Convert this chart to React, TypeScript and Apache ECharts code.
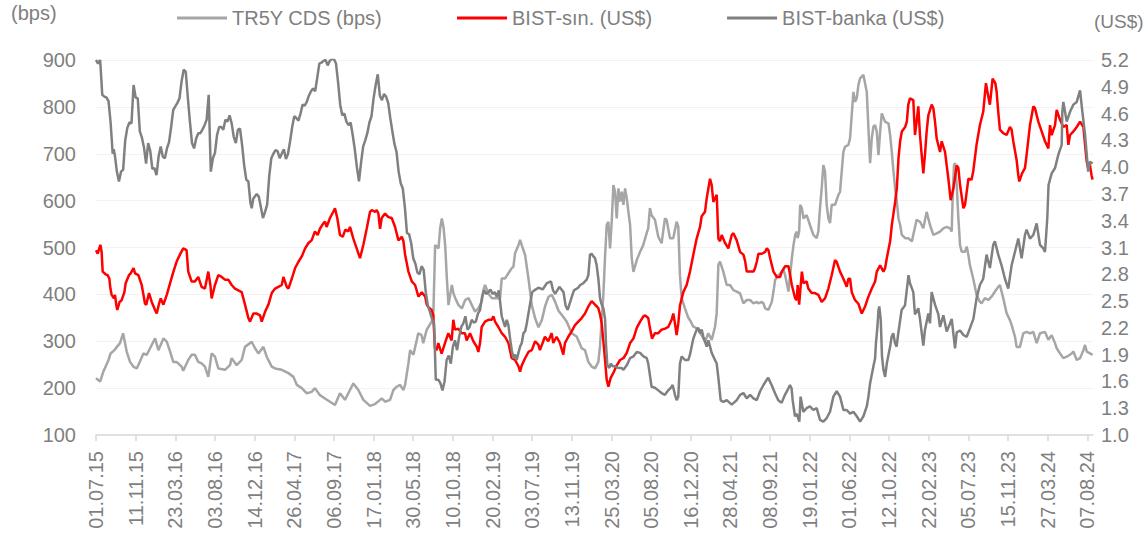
import React, { useEffect, useRef } from "react";
import * as echarts from "echarts";

// x values are weeks since 01.07.15 (weekly data)
const START_UTC = Date.UTC(2015, 6, 1);
const LABEL_STEP_WEEKS = 19;
const LABEL_WEEKS = Array.from({ length: 26 }, (_, k) => k * LABEL_STEP_WEEKS);
const LAST_WEEK = 477.7;

const legendNames = ["TR5Y CDS (bps)", "BIST-sın. (US$)", "BIST-banka (US$)"];

// TR5Y CDS (bps) - left axis
const cdsSeries: [number, number][] = [
  [0,221],[2,214],[3.5,235],[5,250],[6,260],[7,274],[8.8,281],[10,288],[11.5,296],[13,317],[14.7,278],[16.3,256],[17.9,246],[19.5,242],[21,256],[22.7,274],[24.3,271],[25.9,285],[28.3,306],[29.9,281],[32.3,306],[33.9,299],[35.5,278],[37,256],[38.6,256],[41,246],[41.8,237],[44.2,260],[45.8,271],[47.4,271],[49,256],[50.6,253],[52.2,246],[53.8,224],[55.4,274],[57,267],[58.6,242],[61.8,239],[64.2,249],[65,264],[67.4,249],[69.8,260],[71.4,288],[73.8,296],[74.6,299],[76.2,285],[77.8,274],[80.2,288],[81.8,267],[84.2,246],[85.8,242],[89,239],[92.2,232],[94.6,224],[96.2,207],[98.6,200],[101,189],[103.3,192],[104.9,200],[107.3,185],[109.7,178],[112.1,171],[114.5,164],[116.9,189],[119.3,175],[120.9,189],[123.3,210],[125.7,196],[128.1,175],[131.3,162],[133.7,166],[136.1,175],[136.9,178],[138.5,171],[140.9,175],[142.5,196],[144.1,203],[145.7,207],[147.3,196],[148.1,207],[149.7,253],[150.5,281],[152.1,271],[154.4,317],[156,313],[156.8,296],[158.4,324],[160.8,342],[161.6,352],[162.5,505],[163.3,502],[164.1,498],[164.9,541],[165.7,562],[166.5,544],[167.3,505],[168.1,434],[168.9,377],[169.7,399],[170.5,420],[171.3,402],[172.1,392],[173.7,377],[175.3,370],[176.9,388],[178.5,392],[180.1,377],[181.6,363],[183.2,370],[184.8,384],[185.6,409],[186.4,420],[188,402],[189.6,392],[192,392],[193.6,392],[194.4,434],[196,434],[197.6,445],[199.2,456],[200,459],[200.8,488],[202.4,505],[203.2,516],[204,505],[205.6,484],[207.2,434],[208.8,377],[209.6,363],[210.4,349],[212,330],[213.6,345],[215.2,375],[216.8,395],[218.4,399],[220,384],[221.6,365],[223.2,356],[225.5,342],[227.9,317],[230.3,310],[232.7,285],[234.3,281],[235.9,256],[237.5,246],[239.1,242],[240.7,256],[241.5,290],[242.3,345],[243.1,400],[243.9,480],[244.7,548],[245.5,555],[246.3,498],[247.1,555],[247.9,633],[248.7,619],[249.5,562],[250.3,626],[251.1,598],[251.9,619],[252.7,591],[253.5,626],[254.3,605],[255.1,576],[255.9,548],[256.7,477],[257.5,448],[259.1,473],[260.7,491],[262.2,505],[263.8,530],[264.6,541],[265.4,584],[266.2,569],[267.8,559],[269.4,523],[271,509],[272.6,562],[273.4,559],[275,520],[276.6,520],[278.2,555],[279,544],[279.8,441],[280.6,392],[282.2,370],[283.8,350],[284.6,345],[286.2,331],[287.8,328],[290.2,313],[291.8,299],[293.4,317],[295,303],[296.6,331],[297.4,360],[298.2,463],[299,470],[300.6,448],[302.2,420],[303.8,420],[305.4,409],[307,406],[308.6,402],[310.2,381],[311.8,388],[313.4,388],[315,381],[316.6,384],[317.4,381],[319,384],[319.8,381],[320.6,370],[322.2,367],[323.8,384],[324.6,406],[325.4,431],[327,441],[328.6,448],[329.4,452],[330.2,441],[331.8,406],[332.6,441],[333.4,477],[334.2,505],[335,527],[335.8,534],[336.2,520],[336.9,534],[337.4,591],[338.2,584],[339,562],[340.5,569],[342.1,548],[343.7,527],[345.3,520],[346.1,534],[346.9,584],[347.7,626],[348.5,676],[349.3,662],[350.1,591],[350.9,562],[351.7,552],[352.5,591],[354.1,591],[355.7,612],[356.5,619],[357.3,662],[358.1,704],[358.9,715],[360.5,719],[361.3,733],[362.1,783],[362.9,832],[363.7,811],[364.5,818],[365.3,847],[366.1,861],[367.7,868],[368.5,850],[369.3,832],[370.1,754],[370.9,680],[371.7,733],[372.5,758],[373.3,761],[374.1,747],[374.9,697],[375.7,747],[376.5,786],[378.1,768],[379.7,765],[380.5,740],[381.3,704],[382.1,662],[382.9,626],[383.7,598],[384.5,562],[385.3,548],[386.1,527],[387.7,520],[389.2,520],[390.9,513],[391.6,527],[393.2,559],[394.8,555],[396.4,541],[398,576],[399.6,548],[401.2,527],[402.8,530],[404.4,534],[406,541],[407.6,544],[409.2,541],[410,534],[410.4,598],[411.1,676],[411.6,680],[412.4,633],[413.2,562],[414,505],[414.8,491],[416.4,491],[417.2,502],[418,484],[418.7,463],[420.3,434],[421.9,399],[423.5,384],[424.3,381],[425.9,392],[427.5,388],[429.1,395],[430.7,406],[432.3,416],[433.1,420],[434.7,392],[436.3,360],[437.9,345],[438.7,335],[440.3,310],[441.1,288],[442.7,288],[444.3,317],[445.9,320],[447.5,317],[449.1,320],[450.7,296],[452.3,317],[454.7,320],[456.3,303],[457.9,313],[459.5,296],[460.3,285],[461.9,274],[463.5,264],[465.1,267],[467.5,274],[468.3,278],[469.9,260],[471.5,264],[473.1,281],[473.9,292],[474.7,278],[476.3,274],[477.5,271]
];

// BIST-sın. (US$) - right axis
const bistSinSeries: [number, number][] = [
  [0,3.07],[0.8,3.03],[2.1,3.13],[2.7,3.05],[3.2,2.83],[4.6,2.80],[5.6,2.79],[6.4,2.75],[6.9,2.64],[7.5,2.57],[8.6,2.53],[9.1,2.57],[9.7,2.46],[10.2,2.40],[11.3,2.49],[12.3,2.51],[13.6,2.60],[14.2,2.70],[15.8,2.79],[16.6,2.81],[18,2.87],[18.7,2.81],[20.3,2.79],[21.9,2.68],[23.5,2.47],[24.1,2.46],[25.4,2.59],[26.7,2.49],[28.3,2.40],[29.1,2.36],[30.2,2.47],[31,2.53],[32.3,2.46],[33.9,2.57],[35.5,2.70],[37.1,2.83],[38.6,2.94],[40.2,3.02],[41.8,3.09],[43.4,3.07],[44.2,2.83],[45.8,2.72],[47.4,2.72],[49,2.77],[50.6,2.66],[52.2,2.64],[53.8,2.83],[54.8,2.68],[55.4,2.53],[57,2.68],[58.6,2.79],[60.2,2.77],[61.8,2.74],[63.4,2.74],[65,2.68],[66.6,2.64],[68.2,2.62],[69.8,2.60],[71.4,2.46],[73,2.31],[73.8,2.27],[75.4,2.36],[77,2.36],[78.6,2.34],[79.4,2.27],[81,2.38],[82.6,2.46],[84.2,2.59],[85.8,2.64],[87.4,2.66],[89,2.68],[89.8,2.77],[91.4,2.66],[92.2,2.64],[93.8,2.75],[95.4,2.87],[97,2.94],[98.6,3.00],[100.2,3.09],[101.8,3.15],[103.3,3.18],[104.9,3.28],[106.2,3.24],[107.3,3.31],[108.9,3.37],[109.7,3.39],[110.5,3.33],[112.1,3.43],[113.7,3.50],[114.5,3.54],[115.6,3.43],[116.9,3.24],[118.2,3.22],[119.5,3.30],[120.9,3.28],[121.7,3.33],[123.3,3.20],[124.9,3.09],[126.5,2.98],[128.1,3.13],[129.7,3.31],[131.3,3.50],[132.1,3.52],[133.7,3.50],[134.5,3.52],[135.3,3.48],[136.1,3.31],[136.9,3.43],[138.5,3.48],[140.1,3.44],[141.7,3.43],[143.3,3.33],[144.9,3.18],[146.5,3.22],[147.3,3.17],[148.1,3.02],[149.7,2.83],[151.3,2.72],[152.9,2.68],[154.5,2.55],[156.1,2.60],[157.7,2.55],[158.5,2.46],[159.3,2.43],[160.8,2.40],[161.6,2.34],[162.4,1.97],[163.2,1.95],[164,2.03],[165.6,1.91],[167.2,2.03],[168.8,2.14],[170.4,2.06],[171.2,2.29],[172,2.18],[173.6,2.19],[175.2,2.14],[176.8,2.14],[177.6,2.06],[179.2,2.14],[180.8,2.05],[182.4,1.99],[183.2,1.93],[184,2.03],[184.8,2.21],[186.4,2.27],[188,2.29],[189.6,2.29],[190.4,2.33],[191.2,2.27],[192.8,2.21],[194.4,2.14],[196,2.10],[197.6,2.03],[199.2,1.86],[200.8,1.84],[202.4,1.77],[203.2,1.71],[204,1.78],[205.6,1.86],[207.2,1.93],[208.8,1.95],[210.4,2.05],[212,2.01],[212.7,1.95],[214.3,2.05],[215.1,2.10],[216.7,2.05],[218.3,2.14],[219.1,2.03],[220.7,2.10],[222.3,2.03],[223.9,1.90],[224.7,2.03],[226.3,2.10],[227.9,2.16],[229.5,2.23],[231.1,2.27],[232.7,2.31],[234.3,2.36],[235.9,2.44],[237.5,2.50],[239.1,2.46],[240.7,2.42],[241.5,2.35],[242.3,2.25],[243.1,2.05],[243.9,1.84],[244.7,1.62],[245.5,1.54],[246.6,1.64],[248.2,1.71],[249.5,1.78],[251.1,1.84],[252.7,1.86],[254.3,1.92],[255.9,2.03],[257.5,2.08],[259.1,2.20],[260.7,2.27],[262.3,2.33],[263.1,2.34],[264.6,2.31],[265.4,2.20],[266.4,2.08],[267.8,2.14],[269.4,2.14],[271,2.18],[272.6,2.19],[274.2,2.21],[275.8,2.29],[276.6,2.36],[277.4,2.25],[278.2,2.12],[279,2.25],[279.8,2.45],[281.4,2.60],[283,2.68],[284.6,2.83],[286.2,3.02],[287.8,3.20],[289.4,3.33],[290.2,3.45],[291.8,3.50],[292.6,3.65],[294.2,3.87],[295,3.80],[295.8,3.61],[297.4,3.69],[298.2,3.20],[299,3.17],[299.8,3.24],[301.4,3.15],[303,3.09],[304.6,3.24],[305.4,3.26],[307,3.18],[308.6,3.05],[310.2,3.02],[311,2.95],[311.8,2.83],[313.4,2.83],[315,2.83],[315.8,2.87],[316.6,2.94],[317.4,3.03],[319,3.03],[320.6,3.05],[321.4,3.09],[322.2,3.07],[323,2.98],[324.6,2.83],[326.2,2.77],[327.8,2.77],[328.6,2.83],[330.2,2.89],[331.8,2.89],[332.6,2.79],[333.4,2.68],[335,2.53],[335.8,2.51],[336.2,2.68],[336.9,2.46],[338.2,2.83],[339,2.70],[340.5,2.72],[341.3,2.64],[342.9,2.59],[344.5,2.59],[346.1,2.57],[347.7,2.49],[349.3,2.53],[350.9,2.64],[352.5,2.79],[354.1,2.96],[354.9,2.94],[356.5,2.83],[358.1,2.75],[359.7,2.66],[360.5,2.75],[361.3,2.75],[362.1,2.60],[363.7,2.51],[365.3,2.47],[366.9,2.36],[368.5,2.44],[370.1,2.55],[371.7,2.64],[373.3,2.72],[374.1,2.83],[375.7,2.90],[377.3,2.83],[378.1,2.87],[378.9,2.98],[380.5,3.17],[381.3,3.35],[382.9,3.61],[383.7,3.76],[384.5,4.10],[385.3,4.29],[386.1,4.40],[387.7,4.45],[388.5,4.51],[389.2,4.70],[390,4.77],[391.6,4.75],[392.4,4.36],[393.2,4.51],[394,4.68],[394.8,4.36],[395.6,4.14],[396.4,3.93],[397.2,4.14],[398,4.40],[398.8,4.58],[400.4,4.70],[401.2,4.66],[402,4.51],[402.8,4.32],[404.4,4.17],[405.2,4.29],[406.8,4.17],[407.6,4.02],[408.4,3.87],[409.5,3.63],[410.8,3.76],[412.4,4.02],[413.2,3.99],[414,3.80],[415.6,3.54],[416.4,3.58],[418,3.87],[419.5,3.86],[420.3,3.95],[421.9,4.25],[423.5,4.47],[425.1,4.62],[426.4,4.94],[427.7,4.77],[428.3,4.70],[429.6,4.99],[430.9,4.94],[431.5,4.85],[432.3,4.62],[433.1,4.42],[434.7,4.38],[436.3,4.36],[437.9,4.45],[438.7,4.42],[439.5,4.29],[441.1,4.08],[441.9,3.91],[442.4,3.84],[443.7,3.93],[445.1,3.99],[445.9,4.14],[447.5,4.47],[449.1,4.68],[449.9,4.66],[451.5,4.51],[453.1,4.40],[454.7,4.29],[456.3,4.21],[457.1,4.47],[457.9,4.36],[459.5,4.47],[460.3,4.64],[461.9,4.53],[463.5,4.45],[465.1,4.47],[465.9,4.25],[466.7,4.36],[468.3,4.40],[469.9,4.45],[471.5,4.51],[473.1,4.45],[473.9,4.25],[474.7,4.06],[475.4,3.99],[476.2,4.03],[477,3.91],[477.5,3.86]
];

// BIST-banka (US$) - right axis
const bistBankaSeries: [number, number][] = [
  [0,5.2],[1,5.16],[2,5.2],[3,4.81],[4,4.79],[5,4.78],[6,4.74],[7,4.5],[8,4.15],[8.5,4.2],[9,4.14],[10,3.95],[11,3.84],[12,3.95],[13,3.97],[14,4.3],[15,4.44],[16,4.50],[17,4.49],[18,4.92],[19,4.78],[20,4.77],[21,4.40],[22,4.33],[23,4.22],[24,4.04],[25,4.27],[26,4.18],[27,3.98],[28,3.99],[29,3.91],[30,4.12],[31,4.23],[32,4.12],[33,4.10],[34,4.21],[35,4.28],[36,4.45],[37,4.64],[38,4.68],[39,4.72],[40,4.77],[41,4.96],[42,5.09],[43,5.07],[44,4.78],[45,4.51],[46,4.27],[47,4.21],[48,4.32],[49,4.38],[50,4.38],[51,4.42],[52,4.47],[53,4.53],[54,4.81],[55,3.95],[56,4.10],[57,4.16],[58,4.36],[59,4.45],[60,4.45],[61,4.42],[62,4.53],[63,4.51],[64,4.58],[65,4.49],[66,4.34],[67,4.27],[68,4.42],[69,4.43],[70,4.25],[71,4.02],[72,3.86],[73,3.84],[74,3.60],[74.6,3.54],[75.4,3.65],[77,3.70],[78,3.67],[79,3.55],[80,3.43],[81,3.50],[82,3.58],[83,3.90],[84,4.10],[85,4.15],[86,4.19],[87,4.18],[88,4.10],[89,4.15],[90,4.20],[91,4.09],[92,4.15],[93,4.29],[94,4.45],[95,4.57],[96,4.55],[97,4.52],[98,4.60],[99,4.70],[100,4.69],[101,4.73],[102,4.80],[103,4.85],[104,4.88],[105,4.85],[106,5.00],[107,5.16],[108,5.17],[109,5.19],[110,5.20],[111,5.14],[112,5.19],[113,5.21],[114,5.21],[115,5.16],[116,4.95],[117,4.70],[118,4.58],[119,4.60],[120,4.51],[121,4.47],[122,4.50],[123,4.36],[124,4.20],[125,4.00],[126,3.84],[127,4.05],[128,4.23],[129,4.30],[130,4.38],[131,4.50],[132,4.57],[133,4.77],[134,4.92],[135,5.04],[136,4.80],[137,4.75],[138,4.82],[139,4.79],[140,4.72],[141,4.55],[142,4.40],[143,4.26],[144,4.17],[145,3.95],[146,3.82],[147,3.76],[148,3.55],[149,3.26],[150,3.25],[151,3.15],[152,2.98],[153,2.92],[154,2.82],[155,2.80],[156,2.89],[157,2.85],[158,2.6],[159,2.45],[160,2.38],[161,2.3],[162,2.25],[162.8,1.62],[164,1.62],[165,1.58],[166,1.50],[167,1.60],[168,1.84],[169,1.89],[170,1.80],[171,1.99],[172,2.06],[173,1.95],[174,2.10],[175,2.21],[176,2.25],[177,2.33],[178,2.18],[179,2.21],[180,2.29],[181,2.26],[182,2.27],[183,2.36],[184,2.40],[185,2.55],[186,2.62],[187,2.58],[188,2.60],[189,2.63],[190,2.58],[191,2.60],[192,2.55],[193,2.62],[194.4,2.33],[195.2,2.27],[196,2.21],[196.8,2.29],[197.6,2.23],[198.4,2.08],[199.2,1.95],[200,1.86],[200.8,1.90],[201.6,1.84],[202.4,1.92],[203.2,1.99],[204,2.03],[204.8,2.14],[205.6,2.16],[206.4,2.25],[207.2,2.36],[208,2.47],[209,2.6],[210,2.62],[212,2.65],[214,2.63],[216,2.70],[218,2.72],[219,2.62],[220,2.58],[222,2.66],[224,2.60],[225,2.45],[226,2.40],[228,2.55],[229,2.62],[231,2.65],[232,2.68],[233.5,2.70],[235.1,2.74],[235.9,2.79],[236.7,3.02],[237.5,3.03],[238.3,3.0],[239.1,2.98],[239.9,2.90],[240.7,2.75],[241.5,2.53],[242.3,2.46],[243.1,2.42],[243.9,2.3],[244.4,2.0],[245,1.78],[246,1.75],[246.6,1.80],[247.6,1.77],[248.8,1.77],[250.3,1.75],[251.9,1.75],[252.7,1.73],[254.3,1.78],[255.9,1.86],[257.5,1.88],[259.1,1.93],[260.7,1.92],[262.3,1.88],[263.9,1.86],[264.6,1.80],[265.4,1.67],[266.2,1.54],[267.8,1.53],[269.4,1.50],[271,1.47],[272.6,1.45],[274.2,1.50],[275.8,1.54],[276.3,1.56],[277.4,1.45],[278.2,1.39],[279,1.43],[279.5,1.67],[279.8,1.80],[280.6,1.88],[282.2,1.84],[283.8,1.84],[284.6,1.90],[285.4,1.99],[286.2,2.08],[287.8,2.18],[288.6,2.20],[289.4,2.14],[290.2,2.18],[291,2.10],[292.6,1.99],[293.4,2.06],[295,1.92],[296.6,1.84],[297.4,1.80],[298.2,1.64],[299.3,1.39],[300.6,1.37],[302.2,1.39],[304.6,1.34],[307,1.39],[308.6,1.45],[310.2,1.47],[311.8,1.41],[313.4,1.45],[315,1.41],[316.6,1.39],[318.2,1.49],[319.8,1.56],[321.4,1.62],[322.1,1.64],[323.7,1.56],[325.3,1.47],[326.9,1.39],[328.5,1.36],[330.1,1.45],[331.7,1.52],[332.5,1.56],[333.3,1.52],[333.8,1.39],[334.9,1.21],[335.7,1.24],[337,1.15],[337.6,1.43],[338.9,1.26],[340.5,1.30],[342.1,1.32],[343.7,1.28],[345.3,1.30],[346.9,1.17],[348.5,1.15],[350.1,1.19],[351.7,1.26],[353.3,1.43],[354.9,1.49],[356.5,1.43],[358.1,1.28],[359.7,1.28],[361.3,1.24],[362.9,1.26],[364.5,1.21],[366.1,1.15],[367.7,1.21],[369.3,1.32],[370.1,1.43],[370.9,1.58],[372.5,1.77],[373.3,1.86],[373.7,2.03],[374.4,2.21],[374.9,2.40],[375.3,2.44],[376,2.29],[376.6,1.88],[377.3,1.73],[378.1,1.65],[378.9,1.80],[380.5,1.99],[381.2,2.10],[382,2.14],[382.8,2.03],[383.6,1.99],[384.4,2.14],[386,2.40],[387.6,2.45],[389.3,2.79],[390,2.7],[391.6,2.6],[392.4,2.35],[394,2.42],[394.8,2.3],[396.4,2.0],[397.2,2.18],[398.8,2.36],[399.6,2.25],[400.4,2.6],[402,2.46],[403.6,2.35],[404.4,2.21],[406,2.34],[407.6,2.16],[409.2,2.25],[410,2.3],[411.6,1.97],[412.4,2.15],[414,2.17],[415.6,2.12],[417.2,2.1],[418.8,2.2],[420.4,2.3],[421.9,2.53],[423.5,2.68],[425.1,2.75],[426.7,3.02],[428.3,2.87],[429.9,3.13],[430.7,3.17],[432.3,3.02],[433.9,2.90],[435.5,2.75],[437.1,2.64],[438.7,2.90],[440.3,3.05],[441.9,3.20],[443.5,2.98],[445.1,3.24],[445.9,3.30],[447.5,3.20],[449.1,3.24],[450.7,3.37],[452.3,3.13],[453.9,3.09],[454.7,3.05],[455.8,3.43],[456.4,3.80],[457.9,3.93],[459.5,3.99],[461.1,4.14],[462.7,4.25],[463,4.62],[463.5,4.73],[465.1,4.51],[466.7,4.62],[468.3,4.70],[469.9,4.73],[471.5,4.86],[472.4,4.66],[473.9,4.36],[475.4,3.95],[476.2,4.06],[477.5,4.04]
];

const FONT = "'Liberation Sans', Arial, sans-serif";
const TEXT_COLOR = "#7f7f7f";

function weekToLabel(w: number): string {
  const d = new Date(START_UTC + Math.round(w) * 7 * 86400000);
  const dd = String(d.getUTCDate()).padStart(2, "0");
  const mm = String(d.getUTCMonth() + 1).padStart(2, "0");
  const yy = String(d.getUTCFullYear() % 100).padStart(2, "0");
  return `${dd}.${mm}.${yy}`;
}

export default function App() {
  const ref = useRef<HTMLDivElement>(null);
  useEffect(() => {
    if (!ref.current) return;
    const chart = echarts.init(ref.current, undefined, { renderer: "svg" });
    chart.setOption({
      animation: false,
      backgroundColor: "#ffffff",
      textStyle: { fontFamily: FONT },
      grid: { left: 96, right: 55, top: 60, bottom: 107, containLabel: false },
      legend: {
        data: legendNames,
        left: 172,
        top: 3,
        icon: "rect",
        itemWidth: 50,
        itemHeight: 3,
        itemGap: 75,
        textStyle: { color: TEXT_COLOR, fontSize: 20, fontFamily: FONT },
      },
      graphic: [
        { type: "text", left: 11, top: 3, style: { text: "(bps)", fill: TEXT_COLOR, font: `20px ${FONT}` } },
        { type: "text", left: 1094, top: 12, style: { text: "(US$)", fill: TEXT_COLOR, font: `19px ${FONT}` } },
      ],
      xAxis: {
        type: "value",
        min: 0,
        max: LAST_WEEK,
        interval: LABEL_STEP_WEEKS,
        axisLine: { show: true, lineStyle: { color: "#d9d9d9", width: 1.5 } },
        axisTick: { show: true, length: 6, lineStyle: { color: "#d9d9d9", width: 1.5 }, customValues: LABEL_WEEKS },
        axisLabel: {
          customValues: LABEL_WEEKS,
          rotate: 90,
          margin: 16,
          color: TEXT_COLOR,
          fontSize: 20,
          fontFamily: FONT,
          formatter: (v: number) => weekToLabel(v),
        },
        splitLine: { show: false },
      },
      yAxis: [
        {
          type: "value",
          min: 100,
          max: 900,
          interval: 100,
          position: "left",
          axisLine: { show: false },
          axisTick: { show: false },
          axisLabel: { margin: 20, color: TEXT_COLOR, fontSize: 20, fontFamily: FONT },
          splitLine: { show: true, lineStyle: { color: "#f2f2f2", width: 1 } },
        },
        {
          type: "value",
          min: 1.0,
          max: 5.2,
          interval: 0.3,
          position: "right",
          axisLine: { show: false },
          axisTick: { show: false },
          axisLabel: {
            margin: 8,
            color: TEXT_COLOR,
            fontSize: 20,
            fontFamily: FONT,
            formatter: (v: number) => v.toFixed(1),
          },
          splitLine: { show: false },
        },
      ],
      series: [
        {
          name: legendNames[0],
          type: "line",
          yAxisIndex: 0,
          data: cdsSeries,
          showSymbol: false,
          symbol: "none",
          lineStyle: { color: "#a6a6a6", width: 2.5 },
          itemStyle: { color: "#a6a6a6" },
        },
        {
          name: legendNames[1],
          type: "line",
          yAxisIndex: 1,
          data: bistSinSeries,
          showSymbol: false,
          symbol: "none",
          lineStyle: { color: "#ff0000", width: 2.5 },
          itemStyle: { color: "#ff0000" },
        },
        {
          name: legendNames[2],
          type: "line",
          yAxisIndex: 1,
          data: bistBankaSeries,
          showSymbol: false,
          symbol: "none",
          lineStyle: { color: "#808080", width: 2.5 },
          itemStyle: { color: "#808080" },
        },
      ],
    });
    return () => chart.dispose();
  }, []);
  return <div ref={ref} style={{ position: "fixed", left: 0, top: 0, width: 1148, height: 542 }} />;
}
